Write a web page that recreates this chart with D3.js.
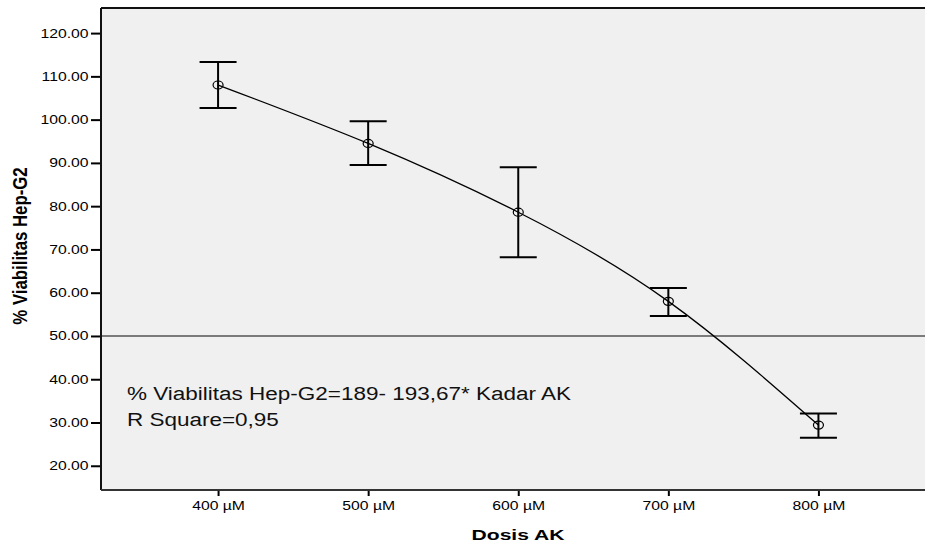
<!DOCTYPE html>
<html>
<head>
<meta charset="utf-8">
<script src="https://cdn.jsdelivr.net/npm/d3@7"></script>
<style>
  body { margin: 0; background: #fff; }
  text { font-family: "Liberation Sans", Arial, sans-serif; }
</style>
</head>
<body>
<div class="chart"></div>
<script>
// Data
const doses = [400, 500, 600, 700, 800]
const doseLabels = ['400 µM', '500 µM', '600 µM', '700 µM', '800 µM']
const meanViability = [108.0, 94.5, 78.6, 58.0, 29.4]
const upperBar = [113.3, 99.6, 89.0, 61.1, 32.1]
const lowerBar = [102.7, 89.5, 68.2, 54.6, 26.5]
const yTicks = [20, 30, 40, 50, 60, 70, 80, 90, 100, 110, 120]
const refLine = 50
const annotation = ['% Viabilitas Hep-G2=189- 193,67* Kadar AK', 'R Square=0,95']

// Dimensions
const dimensions = { width: 925, height: 545 }
const plot = { left: 101, top: 8, right: 925, bottom: 490 }
// the original picture is stretched sideways, so text is widened too
const stretch = 1.28

const svg = d3.select('.chart')
    .append('svg')
    .attr('width', dimensions.width)
    .attr('height', dimensions.height)

const xScale = d3.scaleLinear()
    .domain([322, 871])
    .range([plot.left, plot.left + 824])

const yScale = d3.scaleLinear()
    .domain([14.4, 125.8])
    .range([plot.bottom, plot.top])

// plot background
svg.append('rect')
    .attr('x', plot.left)
    .attr('y', plot.top)
    .attr('width', plot.right - plot.left)
    .attr('height', plot.bottom - plot.top)
    .attr('fill', '#f0f0f0')

// reference line at 50
svg.append('line')
    .attr('x1', plot.left).attr('x2', plot.right)
    .attr('y1', yScale(refLine)).attr('y2', yScale(refLine))
    .attr('stroke', '#555').attr('stroke-width', 1.5)

// Axes
const yAxis = d3.axisLeft(yScale)
    .tickValues(yTicks)
    .tickFormat(d3.format('.2f'))
    .tickSize(10)

const yAxisGroup = svg.append('g')
    .attr('transform', `translate(${plot.left}, 0)`)
    .call(yAxis)
yAxisGroup.select('.domain').remove()
yAxisGroup.selectAll('line').attr('stroke', '#000').attr('stroke-width', 2)
yAxisGroup.selectAll('text')
    .attr('x', -12.5 / stretch)
    .attr('transform', `scale(${stretch},1)`)
    .attr('font-size', 12.3)
    .attr('fill', '#000')
    .style('font-family', '"Liberation Sans", Arial, sans-serif')

const xAxis = d3.axisBottom(xScale)
    .tickValues(doses)
    .tickFormat((d, i) => doseLabels[i])
    .tickSize(6)
    .tickPadding(5)

const xAxisGroup = svg.append('g')
    .attr('transform', `translate(0, ${plot.bottom})`)
    .call(xAxis)
xAxisGroup.select('.domain').remove()
xAxisGroup.selectAll('line').attr('stroke', '#000').attr('stroke-width', 2)
xAxisGroup.selectAll('text')
    .attr('transform', `scale(${stretch},1)`)
    .attr('font-size', 12.3)
    .attr('fill', '#000')
    .style('font-family', '"Liberation Sans", Arial, sans-serif')

// frame: left, top, bottom
svg.append('line')
    .attr('x1', plot.left).attr('x2', plot.left)
    .attr('y1', plot.top).attr('y2', plot.bottom)
    .attr('stroke', '#111').attr('stroke-width', 2)
svg.append('line')
    .attr('x1', plot.left).attr('x2', plot.right)
    .attr('y1', plot.top).attr('y2', plot.top)
    .attr('stroke', '#111').attr('stroke-width', 2)
svg.append('line')
    .attr('x1', plot.left).attr('x2', plot.right)
    .attr('y1', plot.bottom).attr('y2', plot.bottom)
    .attr('stroke', '#333').attr('stroke-width', 2)

// fitted curve
const points = doses.map((d, i) => ({ x: d, y: meanViability[i] }))
const lineGen = d3.line()
    .x(d => xScale(d.x))
    .y(d => yScale(d.y))
    .curve(d3.curveNatural)

svg.append('path')
    .datum(points)
    .attr('d', lineGen)
    .attr('fill', 'none')
    .attr('stroke', '#000')
    .attr('stroke-width', 1.3)

// error bars
const capHalf = 18.5
const bars = svg.append('g')
doses.forEach((d, i) => {
    const cx = xScale(d)
    bars.append('line')
        .attr('x1', cx).attr('x2', cx)
        .attr('y1', yScale(upperBar[i])).attr('y2', yScale(lowerBar[i]))
        .attr('stroke', '#000').attr('stroke-width', 2)
    ;[upperBar[i], lowerBar[i]].forEach(v => {
        bars.append('line')
            .attr('x1', cx - capHalf).attr('x2', cx + capHalf)
            .attr('y1', yScale(v)).attr('y2', yScale(v))
            .attr('stroke', '#000').attr('stroke-width', 2)
    })
})

// mean markers
svg.selectAll('ellipse.mean')
    .data(points)
    .join('ellipse')
    .attr('class', 'mean')
    .attr('cx', d => xScale(d.x))
    .attr('cy', d => yScale(d.y))
    .attr('rx', 5)
    .attr('ry', 4)
    .attr('fill', 'none')
    .attr('stroke', '#000')
    .attr('stroke-width', 1.2)

// annotation
svg.selectAll('text.note')
    .data(annotation)
    .join('text')
    .attr('class', 'note')
    .attr('transform', (d, i) => `translate(127, ${400 + i * 26}) scale(1.25,1)`)
    .attr('font-size', 18)
    .attr('fill', '#111')
    .text(d => d)

// axis titles
svg.append('text')
    .attr('transform', 'translate(518, 540) scale(1.36,1)')
    .attr('text-anchor', 'middle')
    .attr('font-size', 15.5)
    .attr('font-weight', 'bold')
    .text('Dosis AK')

svg.append('text')
    .attr('transform', 'translate(27, 246) rotate(-90) scale(1,1.22)')
    .attr('text-anchor', 'middle')
    .attr('font-size', 16.8)
    .attr('font-weight', 'bold')
    .text('% Viabilitas Hep-G2')
</script>
</body>
</html>
